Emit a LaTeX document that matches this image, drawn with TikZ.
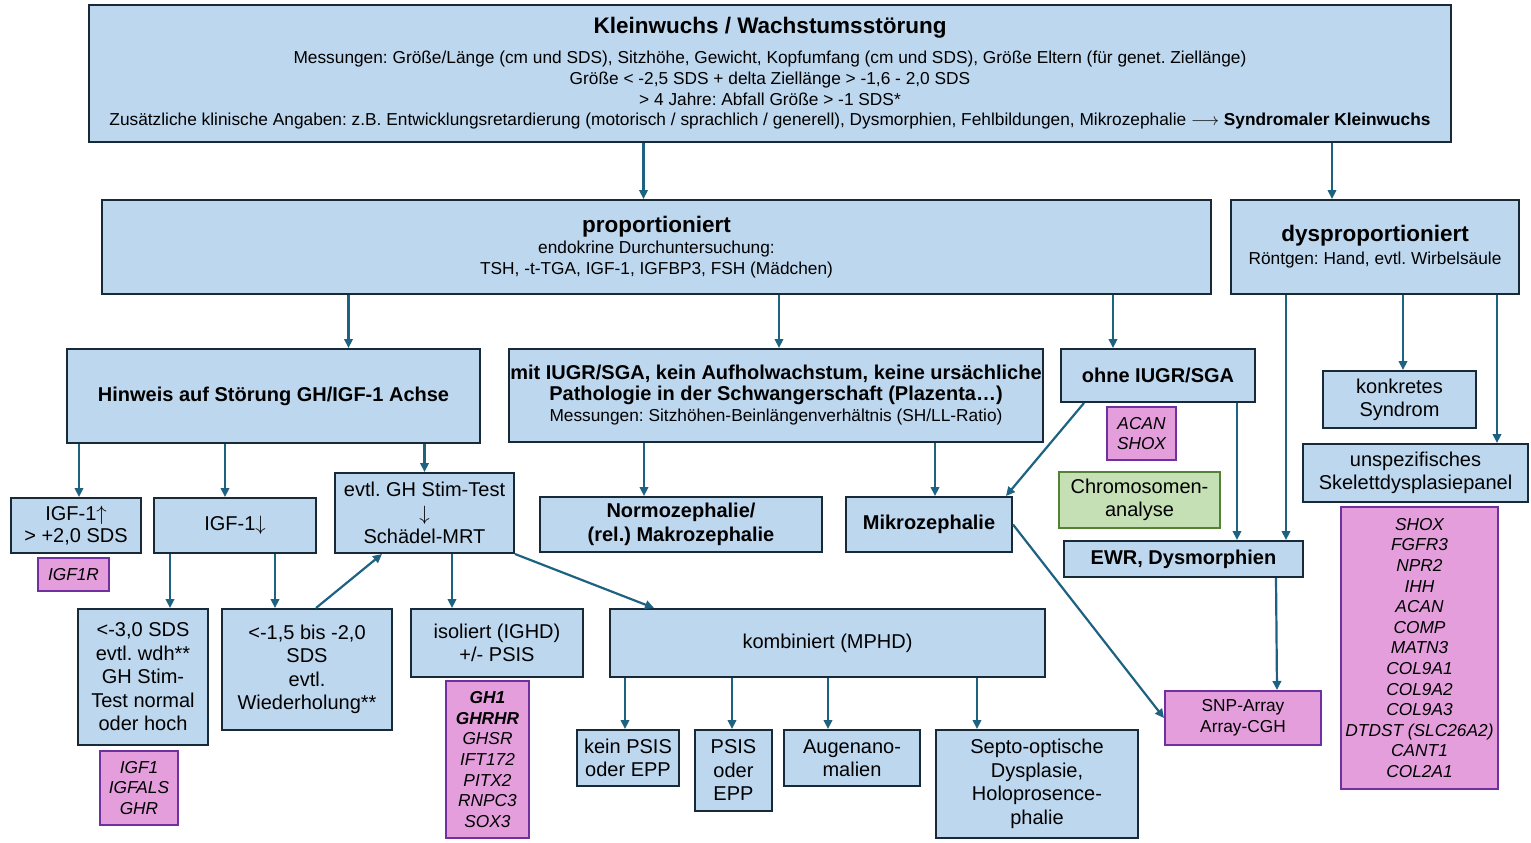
\documentclass[tikz,border=0pt]{standalone}
\usepackage{fontspec}
\setmainfont{Liberation Sans}
\usepackage{amsmath}
\usetikzlibrary{arrows.meta, positioning, calc}
\frenchspacing

\definecolor{boxfill}{RGB}{189,215,238}
\definecolor{boxline}{RGB}{24,42,56}
\definecolor{arrowblue}{RGB}{30,98,130}
\definecolor{genefill}{RGB}{228,158,220}
\definecolor{geneline}{RGB}{112,48,160}
\definecolor{chromfill}{RGB}{197,224,180}
\definecolor{chromline}{RGB}{84,130,53}

\begin{document}
\begin{tikzpicture}[x=1pt, y=-1pt,
        box/.style={draw=boxline, fill=boxfill, line width=2pt, align=center, inner sep=0pt,
                font=\fontsize{20}{23.5}\selectfont},
        boldbox/.style={box, font=\fontsize{20}{24}\selectfont\bfseries},
        gene/.style={draw=geneline, fill=genefill, line width=2pt, align=center, inner sep=0pt,
                font=\fontsize{17.3}{20.6}\selectfont\itshape},
        chrom/.style={draw=chromline, fill=chromfill, line width=2pt, align=center, inner sep=0pt,
                font=\fontsize{20}{23.5}\selectfont},
        arr/.style={draw=arrowblue, line width=2.2pt, -{Triangle[length=9pt,width=8.5pt]}}]
        \useasboundingbox (0,0) rectangle (1531,843);

        % Kleinwuchs
        \node[box, minimum width=1362, minimum height=137, font=\fontsize{17.3}{20.7}\selectfont] (top) at (770,73.5)
        {{\fontsize{22.5}{24}\selectfont\bfseries Kleinwuchs / Wachstumsstörung}\\[9pt]
                Messungen: Größe/Länge (cm und SDS), Sitzhöhe, Gewicht, Kopfumfang (cm und SDS), Größe Eltern (für genet. Ziellänge)\\
                Größe < -2,5 SDS + delta Ziellänge > -1,6 - 2,0 SDS\\
                > 4 Jahre: Abfall Größe > -1 SDS*\\
                Zusätzliche klinische Angaben: z.B. Entwicklungsretardierung (motorisch / sprachlich / generell), Dysmorphien, Fehlbildungen, Mikrozephalie $\longrightarrow$ \textbf{Syndromaler Kleinwuchs}};

        % Second row
        \node[box, minimum width=1109, minimum height=94, font=\fontsize{17.3}{21}\selectfont] (prop) at (656.5,247)
        {{\fontsize{22.5}{24}\selectfont\bfseries proportioniert}\\
                endokrine Durchuntersuchung:\\
                TSH, -t-TGA, IGF-1, IGFBP3, FSH (Mädchen)};
        \node[box, minimum width=288, minimum height=94, font=\fontsize{17.3}{23}\selectfont] (dys) at (1375,247)
        {{\fontsize{22.5}{24}\selectfont\bfseries dysproportioniert}\\
                Röntgen: Hand, evtl. Wirbelsäule};

        % Third row
        \node[boldbox, minimum width=413, minimum height=94] (hinweis) at (273.5,396) {Hinweis auf Störung GH/IGF-1 Achse};
        \node[boldbox, minimum width=534, minimum height=93, font=\fontsize{20}{20.5}\selectfont\bfseries] (iugr) at (776,395.5)
        {mit IUGR/SGA, kein Aufholwachstum, keine ursächliche\\
                Pathologie in der Schwangerschaft (Plazenta\dots)\\[1pt]
                {\fontsize{17.3}{20}\selectfont\mdseries Messungen: Sitzhöhen-Beinlängenverhältnis (SH/LL-Ratio)}};
        \node[boldbox, minimum width=194, minimum height=53] (ohne) at (1158,375.5) {ohne IUGR/SGA};
        \node[gene, minimum width=69, minimum height=53] (acan) at (1141.5,433.5) {ACAN\\SHOX};
        \node[chrom, minimum width=161, minimum height=56] (chromo) at (1139.5,500) {Chromosomen-\\analyse};
        \node[box, minimum width=153, minimum height=57, font=\fontsize{20}{23}\selectfont] (konkret) at (1399.5,399.5) {konkretes\\Syndrom};
        \node[box, minimum width=225, minimum height=58, font=\fontsize{20}{23}\selectfont] (unspez) at (1415.5,473) {unspezifisches\\Skelettdysplasiepanel};
        \node[gene, minimum width=157, minimum height=282] (skelgene) at (1419.5,648)
        {SHOX\\FGFR3\\NPR2\\IHH\\ACAN\\COMP\\MATN3\\COL9A1\\COL9A2\\COL9A3\\DTDST (SLC26A2)\\CANT1\\COL2A1};

        % Fourth row
        \node[box, minimum width=130, minimum height=55, font=\fontsize{20}{22}\selectfont] (igfup) at (76,525.5) {IGF-1$\uparrow$\\> +2,0 SDS};
        \node[gene, minimum width=71, minimum height=33] (igfr) at (73.5,574.5) {IGF1R};
        \node[box, minimum width=162, minimum height=55] (igfdown) at (235,525.5) {IGF-1$\downarrow$};
        \node[box, minimum width=179, minimum height=80] (ghstim) at (424.5,513) {evtl. GH Stim-Test\\$\downarrow$\\Schädel-MRT};
        \node[boldbox, minimum width=282, minimum height=55] (normo) at (681,524.5) {Normozephalie/\\(rel.) Makrozephalie};
        \node[boldbox, minimum width=166, minimum height=55] (mikro) at (929,524.5) {Mikrozephalie};
        \node[boldbox, minimum width=239, minimum height=36] (ewr) at (1183.5,559) {EWR, Dysmorphien};

        % Fifth row
        \node[box, minimum width=130, minimum height=136] (sdsa) at (143,677)
        {<-3,0 SDS\\evtl. wdh**\\GH Stim-\\Test normal\\oder hoch};
        \node[gene, minimum width=78, minimum height=74] (igfgene) at (139,788) {IGF1\\IGFALS\\GHR};
        \node[box, minimum width=170, minimum height=121] (sdsb) at (307,669.5)
        {<-1,5 bis -2,0\\SDS\\evtl.\\Wiederholung**};
        \node[box, minimum width=172, minimum height=68] (isol) at (497,643) {isoliert (IGHD)\\+/- PSIS};
        \node[gene, minimum width=83, minimum height=157] (ghgene) at (487.5,759.5)
        {\textbf{GH1}\\\textbf{GHRHR}\\GHSR\\IFT172\\PITX2\\RNPC3\\SOX3};
        \node[box, minimum width=435, minimum height=68] (komb) at (827.5,643) {kombiniert (MPHD)};
        \node[gene, minimum width=156, minimum height=54, font=\fontsize{17.3}{21}\selectfont] (snp) at (1243,718) {SNP-Array\\Array-CGH};

        % Last row
        \node[box, minimum width=102, minimum height=56] (kein) at (628,758) {kein PSIS\\oder EPP};
        \node[box, minimum width=77, minimum height=81] (psis) at (733.5,770.5) {PSIS\\oder\\EPP};
        \node[box, minimum width=136, minimum height=56] (auge) at (852,758) {Augenano-\\malien};
        \node[box, minimum width=202, minimum height=108] (septo) at (1037,784) {Septo-optische\\Dysplasie,\\Holoprosence-\\phalie};

        % Arrows
        \draw[arr] ([xshift=-13pt]prop.north |- top.south) -- ([xshift=-13pt]prop.north);
        \draw[arr] ([xshift=-43pt]dys.north |- top.south) -- ([xshift=-43pt]dys.north);
        \draw[arr] ([xshift=75pt]hinweis.north |- prop.south) -- ([xshift=75pt]hinweis.north);
        \draw[arr] ([xshift=3pt]iugr.north |- prop.south) -- ([xshift=3pt]iugr.north);
        \draw[arr] ([xshift=-45pt]ohne.north |- prop.south) -- ([xshift=-45pt]ohne.north);
        \draw[arr] ([xshift=102.5pt]ewr.north |- dys.south) -- ([xshift=102.5pt]ewr.north);
        \draw[arr] ([xshift=3.5pt]konkret.north |- dys.south) -- ([xshift=3.5pt]konkret.north);
        \draw[arr] ([xshift=81.5pt]unspez.north |- dys.south) -- ([xshift=81.5pt]unspez.north);
        \draw[arr] ([xshift=53.5pt]ewr.north |- ohne.south) -- ([xshift=53.5pt]ewr.north);
        \draw[arr] ([xshift=24pt]ohne.south west) -- ([xshift=-7pt]mikro.north east);
        \draw[arr] ([xshift=92.5pt]ewr.south) -- ([xshift=34pt]snp.north);
        \draw[arr] ([xshift=-37pt]normo.north |- iugr.south) -- ([xshift=-37pt]normo.north);
        \draw[arr] ([xshift=6pt]mikro.north |- iugr.south) -- ([xshift=6pt]mikro.north);
        \draw[arr] (mikro.east) -- (snp.west);
        \draw[arr] ([xshift=3pt]igfup.north |- hinweis.south) -- ([xshift=3pt]igfup.north);
        \draw[arr] ([xshift=-10pt]igfdown.north |- hinweis.south) -- ([xshift=-10pt]igfdown.north);
        \draw[arr] (ghstim.north |- hinweis.south) -- (ghstim.north);
        \draw[arr] ([xshift=27pt]sdsa.north |- igfdown.south) -- ([xshift=27pt]sdsa.north);
        \draw[arr] ([xshift=-32pt]sdsb.north |- igfdown.south) -- ([xshift=-32pt]sdsb.north);
        \draw[arr] ([xshift=9pt]sdsb.north) -- ([xshift=-42.5pt]ghstim.south);
        \draw[arr] ([xshift=-45pt]isol.north |- ghstim.south) -- ([xshift=-45pt]isol.north);
        \draw[arr] (ghstim.south east) -- ([xshift=45pt]komb.north west);
        \draw[arr] ([xshift=-3pt]kein.north |- komb.south) -- ([xshift=-3pt]kein.north);
        \draw[arr] ([xshift=-1.5pt]psis.north |- komb.south) -- ([xshift=-1.5pt]psis.north);
        \draw[arr] ([xshift=-24pt]auge.north |- komb.south) -- ([xshift=-24pt]auge.north);
        \draw[arr] ([xshift=-60pt]septo.north |- komb.south) -- ([xshift=-60pt]septo.north);
\end{tikzpicture}
\end{document}
